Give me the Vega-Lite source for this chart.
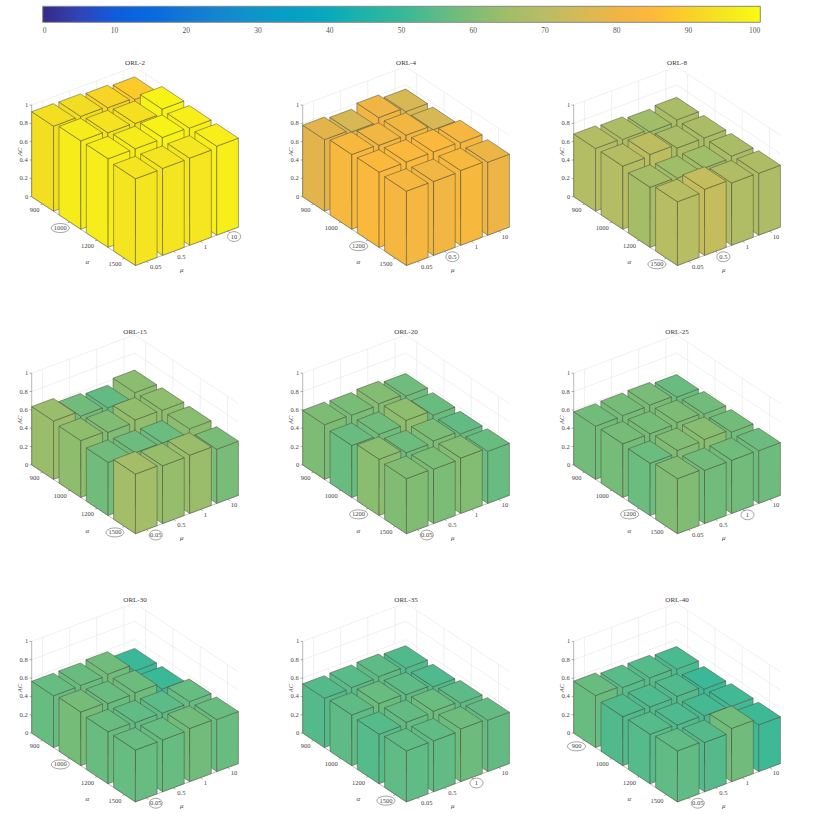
{"$schema":"https://vega.github.io/schema/vega-lite/v6.json","width":822,"height":825,"padding":0,"autosize":{"type":"none"},"background":"white","config":{"view":{"stroke":null}},"projection":{"type":"identity","scale":1,"translate":[0,0]},"datasets":{"panels":[{"panel":"ORL-2","alphaBest":"1000","muBest":"10"},{"panel":"ORL-4","alphaBest":"1200","muBest":"0.5"},{"panel":"ORL-8","alphaBest":"1500","muBest":"0.5"},{"panel":"ORL-15","alphaBest":"1500","muBest":"0.05"},{"panel":"ORL-20","alphaBest":"1200","muBest":"0.05"},{"panel":"ORL-25","alphaBest":"1200","muBest":"1"},{"panel":"ORL-30","alphaBest":"1000","muBest":"0.05"},{"panel":"ORL-35","alphaBest":"1500","muBest":"1"},{"panel":"ORL-40","alphaBest":"900","muBest":"0.05"}],"bars":[
{"panel":"ORL-2","alpha":900,"mu":10,"ac":88.8},{"panel":"ORL-2","alpha":900,"mu":1,"ac":90.7},{"panel":"ORL-2","alpha":900,"mu":0.5,"ac":92.3},{"panel":"ORL-2","alpha":900,"mu":0.05,"ac":92.7},
{"panel":"ORL-2","alpha":1000,"mu":10,"ac":98},{"panel":"ORL-2","alpha":1000,"mu":1,"ac":93.3},{"panel":"ORL-2","alpha":1000,"mu":0.5,"ac":94.2},{"panel":"ORL-2","alpha":1000,"mu":0.05,"ac":96.4},
{"panel":"ORL-2","alpha":1200,"mu":10,"ac":97},{"panel":"ORL-2","alpha":1200,"mu":1,"ac":97.8},{"panel":"ORL-2","alpha":1200,"mu":0.5,"ac":96.5},{"panel":"ORL-2","alpha":1200,"mu":0.05,"ac":96.6},
{"panel":"ORL-2","alpha":1500,"mu":10,"ac":97},{"panel":"ORL-2","alpha":1500,"mu":1,"ac":95},{"panel":"ORL-2","alpha":1500,"mu":0.5,"ac":94.8},{"panel":"ORL-2","alpha":1500,"mu":0.05,"ac":94.5},
{"panel":"ORL-4","alpha":900,"mu":10,"ac":75.5},{"panel":"ORL-4","alpha":900,"mu":1,"ac":80},{"panel":"ORL-4","alpha":900,"mu":0.5,"ac":75.5},{"panel":"ORL-4","alpha":900,"mu":0.05,"ac":78},
{"panel":"ORL-4","alpha":1000,"mu":10,"ac":75.5},{"panel":"ORL-4","alpha":1000,"mu":1,"ac":80.5},{"panel":"ORL-4","alpha":1000,"mu":0.5,"ac":80.5},{"panel":"ORL-4","alpha":1000,"mu":0.05,"ac":81.5},
{"panel":"ORL-4","alpha":1200,"mu":10,"ac":81},{"panel":"ORL-4","alpha":1200,"mu":1,"ac":82},{"panel":"ORL-4","alpha":1200,"mu":0.5,"ac":82},{"panel":"ORL-4","alpha":1200,"mu":0.05,"ac":82},
{"panel":"ORL-4","alpha":1500,"mu":10,"ac":79.5},{"panel":"ORL-4","alpha":1500,"mu":1,"ac":81.5},{"panel":"ORL-4","alpha":1500,"mu":0.5,"ac":80.5},{"panel":"ORL-4","alpha":1500,"mu":0.05,"ac":81},
{"panel":"ORL-8","alpha":900,"mu":10,"ac":66.5},{"panel":"ORL-8","alpha":900,"mu":1,"ac":64.5},{"panel":"ORL-8","alpha":900,"mu":0.5,"ac":67.2},{"panel":"ORL-8","alpha":900,"mu":0.05,"ac":68.4},
{"panel":"ORL-8","alpha":1000,"mu":10,"ac":66.5},{"panel":"ORL-8","alpha":1000,"mu":1,"ac":66.5},{"panel":"ORL-8","alpha":1000,"mu":0.5,"ac":70.5},{"panel":"ORL-8","alpha":1000,"mu":0.05,"ac":68.8},
{"panel":"ORL-8","alpha":1200,"mu":10,"ac":66.5},{"panel":"ORL-8","alpha":1200,"mu":1,"ac":64.5},{"panel":"ORL-8","alpha":1200,"mu":0.5,"ac":64.5},{"panel":"ORL-8","alpha":1200,"mu":0.05,"ac":65.5},
{"panel":"ORL-8","alpha":1500,"mu":10,"ac":67.5},{"panel":"ORL-8","alpha":1500,"mu":1,"ac":68},{"panel":"ORL-8","alpha":1500,"mu":0.5,"ac":72},{"panel":"ORL-8","alpha":1500,"mu":0.05,"ac":69.5},
{"panel":"ORL-15","alpha":900,"mu":10,"ac":61.5},{"panel":"ORL-15","alpha":900,"mu":1,"ac":56},{"panel":"ORL-15","alpha":900,"mu":0.5,"ac":58},{"panel":"ORL-15","alpha":900,"mu":0.05,"ac":63.6},
{"panel":"ORL-15","alpha":1000,"mu":10,"ac":62},{"panel":"ORL-15","alpha":1000,"mu":1,"ac":62.5},{"panel":"ORL-15","alpha":1000,"mu":0.5,"ac":60},{"panel":"ORL-15","alpha":1000,"mu":0.05,"ac":62},
{"panel":"ORL-15","alpha":1200,"mu":10,"ac":61.5},{"panel":"ORL-15","alpha":1200,"mu":1,"ac":57},{"panel":"ORL-15","alpha":1200,"mu":0.5,"ac":57.5},{"panel":"ORL-15","alpha":1200,"mu":0.05,"ac":58},
{"panel":"ORL-15","alpha":1500,"mu":10,"ac":59},{"panel":"ORL-15","alpha":1500,"mu":1,"ac":63.5},{"panel":"ORL-15","alpha":1500,"mu":0.5,"ac":63},{"panel":"ORL-15","alpha":1500,"mu":0.05,"ac":65},
{"panel":"ORL-20","alpha":900,"mu":10,"ac":57.8},{"panel":"ORL-20","alpha":900,"mu":1,"ac":60.4},{"panel":"ORL-20","alpha":900,"mu":0.5,"ac":59},{"panel":"ORL-20","alpha":900,"mu":0.05,"ac":59.6},
{"panel":"ORL-20","alpha":1000,"mu":10,"ac":56.7},{"panel":"ORL-20","alpha":1000,"mu":1,"ac":62},{"panel":"ORL-20","alpha":1000,"mu":0.5,"ac":57.8},{"panel":"ORL-20","alpha":1000,"mu":0.05,"ac":56.7},
{"panel":"ORL-20","alpha":1200,"mu":10,"ac":56},{"panel":"ORL-20","alpha":1200,"mu":1,"ac":59.3},{"panel":"ORL-20","alpha":1200,"mu":0.5,"ac":57.5},{"panel":"ORL-20","alpha":1200,"mu":0.05,"ac":61.4},
{"panel":"ORL-20","alpha":1500,"mu":10,"ac":56.7},{"panel":"ORL-20","alpha":1500,"mu":1,"ac":60.4},{"panel":"ORL-20","alpha":1500,"mu":0.5,"ac":59.3},{"panel":"ORL-20","alpha":1500,"mu":0.05,"ac":60},
{"panel":"ORL-25","alpha":900,"mu":10,"ac":56.7},{"panel":"ORL-25","alpha":900,"mu":1,"ac":59},{"panel":"ORL-25","alpha":900,"mu":0.5,"ac":58.5},{"panel":"ORL-25","alpha":900,"mu":0.05,"ac":58},
{"panel":"ORL-25","alpha":1000,"mu":10,"ac":58},{"panel":"ORL-25","alpha":1000,"mu":1,"ac":59.6},{"panel":"ORL-25","alpha":1000,"mu":0.5,"ac":58.5},{"panel":"ORL-25","alpha":1000,"mu":0.05,"ac":58.5},
{"panel":"ORL-25","alpha":1200,"mu":10,"ac":58},{"panel":"ORL-25","alpha":1200,"mu":1,"ac":61},{"panel":"ORL-25","alpha":1200,"mu":0.5,"ac":60},{"panel":"ORL-25","alpha":1200,"mu":0.05,"ac":57},
{"panel":"ORL-25","alpha":1500,"mu":10,"ac":57.5},{"panel":"ORL-25","alpha":1500,"mu":1,"ac":58},{"panel":"ORL-25","alpha":1500,"mu":0.5,"ac":58},{"panel":"ORL-25","alpha":1500,"mu":0.05,"ac":60},
{"panel":"ORL-30","alpha":900,"mu":10,"ac":50.5},{"panel":"ORL-30","alpha":900,"mu":1,"ac":58},{"panel":"ORL-30","alpha":900,"mu":0.5,"ac":56.7},{"panel":"ORL-30","alpha":900,"mu":0.05,"ac":56.5},
{"panel":"ORL-30","alpha":1000,"mu":10,"ac":50.5},{"panel":"ORL-30","alpha":1000,"mu":1,"ac":57.5},{"panel":"ORL-30","alpha":1000,"mu":0.5,"ac":56.7},{"panel":"ORL-30","alpha":1000,"mu":0.05,"ac":58.5},
{"panel":"ORL-30","alpha":1200,"mu":10,"ac":56.5},{"panel":"ORL-30","alpha":1200,"mu":1,"ac":55},{"panel":"ORL-30","alpha":1200,"mu":0.5,"ac":55.6},{"panel":"ORL-30","alpha":1200,"mu":0.05,"ac":56.7},
{"panel":"ORL-30","alpha":1500,"mu":10,"ac":56.7},{"panel":"ORL-30","alpha":1500,"mu":1,"ac":58},{"panel":"ORL-30","alpha":1500,"mu":0.5,"ac":56.5},{"panel":"ORL-30","alpha":1500,"mu":0.05,"ac":56.5},
{"panel":"ORL-35","alpha":900,"mu":10,"ac":53.5},{"panel":"ORL-35","alpha":900,"mu":1,"ac":55.3},{"panel":"ORL-35","alpha":900,"mu":0.5,"ac":54.5},{"panel":"ORL-35","alpha":900,"mu":0.05,"ac":53.8},
{"panel":"ORL-35","alpha":1000,"mu":10,"ac":53},{"panel":"ORL-35","alpha":1000,"mu":1,"ac":55.3},{"panel":"ORL-35","alpha":1000,"mu":0.5,"ac":56.7},{"panel":"ORL-35","alpha":1000,"mu":0.05,"ac":55.3},
{"panel":"ORL-35","alpha":1200,"mu":10,"ac":55},{"panel":"ORL-35","alpha":1200,"mu":1,"ac":57},{"panel":"ORL-35","alpha":1200,"mu":0.5,"ac":56},{"panel":"ORL-35","alpha":1200,"mu":0.05,"ac":54},
{"panel":"ORL-35","alpha":1500,"mu":10,"ac":56},{"panel":"ORL-35","alpha":1500,"mu":1,"ac":57.5},{"panel":"ORL-35","alpha":1500,"mu":0.5,"ac":55.5},{"panel":"ORL-35","alpha":1500,"mu":0.05,"ac":55.6},
{"panel":"ORL-40","alpha":900,"mu":10,"ac":52.5},{"panel":"ORL-40","alpha":900,"mu":1,"ac":54},{"panel":"ORL-40","alpha":900,"mu":0.5,"ac":54.5},{"panel":"ORL-40","alpha":900,"mu":0.05,"ac":56.7},
{"panel":"ORL-40","alpha":1000,"mu":10,"ac":50.5},{"panel":"ORL-40","alpha":1000,"mu":1,"ac":53.5},{"panel":"ORL-40","alpha":1000,"mu":0.5,"ac":53},{"panel":"ORL-40","alpha":1000,"mu":0.05,"ac":53.5},
{"panel":"ORL-40","alpha":1200,"mu":10,"ac":51.5},{"panel":"ORL-40","alpha":1200,"mu":1,"ac":52},{"panel":"ORL-40","alpha":1200,"mu":0.5,"ac":53},{"panel":"ORL-40","alpha":1200,"mu":0.05,"ac":54},
{"panel":"ORL-40","alpha":1500,"mu":10,"ac":51},{"panel":"ORL-40","alpha":1500,"mu":1,"ac":58},{"panel":"ORL-40","alpha":1500,"mu":0.5,"ac":53.8},{"panel":"ORL-40","alpha":1500,"mu":0.05,"ac":55.6}
],"cbticks":[{"pct":10},{"pct":20},{"pct":30},{"pct":40},{"pct":50},{"pct":60},{"pct":70},{"pct":80},{"pct":90}]},
"layer":[
{"data":{"name":"panels"},"transform":[
{"calculate":"indexof(['ORL-2','ORL-4','ORL-8','ORL-15','ORL-20','ORL-25','ORL-30','ORL-35','ORL-40'],datum.panel)","as":"n"},
{"calculate":"[31.7,302.7,573.7][datum.n%3]","as":"ox"},
{"calculate":"196.7+268.2*floor(datum.n/3)","as":"oy"},
{"calculate":"[{axis:'z',i:0,v:0,label:'0'},{axis:'z',i:1,v:0.2,label:'0.2'},{axis:'z',i:2,v:0.4,label:'0.4'},{axis:'z',i:3,v:0.6,label:'0.6'},{axis:'z',i:4,v:0.8,label:'0.8'},{axis:'z',i:5,v:1,label:'1'},{axis:'alpha',i:0,v:0,label:'900'},{axis:'alpha',i:1,v:0,label:'1000'},{axis:'alpha',i:2,v:0,label:'1200'},{axis:'alpha',i:3,v:0,label:'1500'},{axis:'mu',i:0,v:0,label:'0.05'},{axis:'mu',i:1,v:0,label:'0.5'},{axis:'mu',i:2,v:0,label:'1'},{axis:'mu',i:3,v:0,label:'10'}]","as":"t"},
{"flatten":["t"]},
{"calculate":"datum.t.axis","as":"axis"},{"calculate":"datum.t.label","as":"label"},
{"calculate":"datum.axis=='alpha'?datum.t.i+0.4:datum.axis=='mu'?3.8:0","as":"a"},
{"calculate":"datum.axis=='mu'?datum.t.i+0.4:0","as":"b"},
{"calculate":"datum.ox+datum.a*27.3+datum.b*27.1","as":"px"},
{"calculate":"datum.oy+datum.a*18.1-datum.b*10.1-datum.t.v*91.7","as":"py"},
{"calculate":"{type:'LineString',coordinates:datum.axis=='z'?[[datum.px,datum.py],[datum.px+103,datum.py-38.4],[datum.px+206.7,datum.py+30.4]]:datum.axis=='alpha'?[[datum.px,datum.py],[datum.px+103,datum.py-38.4],[datum.px+103,datum.py-130.1]]:[[datum.px,datum.py],[datum.px-103.7,datum.py-68.8],[datum.px-103.7,datum.py-160.5]]}","as":"grid"},
{"calculate":"{type:'LineString',coordinates:datum.axis=='z'?[[datum.px,datum.py],[datum.px-2,datum.py]]:datum.axis=='alpha'?[[datum.px,datum.py],[datum.px-2.2,datum.py+0.8]]:[[datum.px,datum.py],[datum.px+2.2,datum.py+1.45]]}","as":"tick"},
{"calculate":"{type:'MultiLineString',coordinates:[[[datum.ox,datum.oy],[datum.ox,datum.oy-91.7]],[[datum.ox,datum.oy],[datum.ox+103.7,datum.oy+68.8],[datum.ox+206.7,datum.oy+30.4]]]}","as":"axes"},
{"calculate":"length(datum.label)*1.5","as":"hw"},
{"calculate":"datum.axis=='mu'?datum.px+3.5+datum.hw:datum.px-3.6-datum.hw","as":"lx"},
{"calculate":"datum.axis=='z'?datum.py:datum.axis=='alpha'?datum.py+6:datum.py+5.4","as":"ly"}
],"layer":[
{"mark":{"type":"geoshape","filled":false,"stroke":"#e6e6e6","strokeWidth":0.6,"fill":null},"encoding":{"shape":{"field":"grid","type":"geojson"}}},
{"transform":[{"filter":"datum.axis=='z'&&datum.t.v==0"}],"mark":{"type":"geoshape","filled":false,"stroke":"#8a8a8a","strokeWidth":0.6,"fill":null},"encoding":{"shape":{"field":"axes","type":"geojson"}}},
{"mark":{"type":"geoshape","filled":false,"stroke":"#555555","strokeWidth":0.5,"fill":null},"encoding":{"shape":{"field":"tick","type":"geojson"}}},
{"mark":{"type":"text","font":"Liberation Serif","fontSize":6.5,"color":"#444444","opacity":0.99,"align":"center","baseline":"middle"},"encoding":{"longitude":{"field":"lx","type":"quantitative"},"latitude":{"field":"ly","type":"quantitative"},"text":{"field":"label","type":"nominal"}}},
{"transform":[{"filter":"datum.axis=='alpha'&&datum.label==datum.alphaBest"}],"mark":{"type":"point","shape":"M-1,0A1,0.5,0,1,1,1,0A1,0.5,0,1,1,-1,0Z","size":324,"stroke":"#444444","strokeWidth":0.5,"fill":"transparent","opacity":1},"encoding":{"longitude":{"field":"lx","type":"quantitative"},"latitude":{"field":"ly","type":"quantitative"}}},
{"transform":[{"filter":"datum.axis=='mu'&&datum.label==datum.muBest"}],"mark":{"type":"point","shape":"M-1,0A1,0.75,0,1,1,1,0A1,0.75,0,1,1,-1,0Z","size":169,"stroke":"#444444","strokeWidth":0.5,"fill":"transparent","opacity":1},"encoding":{"longitude":{"field":"lx","type":"quantitative"},"latitude":{"field":"ly","type":"quantitative"}}},
{"transform":[{"filter":"datum.axis=='z'&&datum.t.v==0"},{"calculate":"datum.ox+103.3","as":"tx"},{"calculate":"datum.oy-133.4","as":"ty"}],"mark":{"type":"text","font":"Liberation Serif","fontSize":7,"color":"#333333","opacity":0.99,"align":"center","baseline":"middle"},"encoding":{"longitude":{"field":"tx","type":"quantitative"},"latitude":{"field":"ty","type":"quantitative"},"text":{"field":"panel","type":"nominal"}}},
{"transform":[{"filter":"datum.axis=='z'&&datum.t.v==0"},{"calculate":"datum.ox+55.7","as":"tx"},{"calculate":"datum.oy+65.7","as":"ty"}],"mark":{"type":"text","font":"Liberation Serif","fontSize":7,"fontStyle":"italic","color":"#444444","opacity":0.99,"align":"center","baseline":"middle"},"encoding":{"longitude":{"field":"tx","type":"quantitative"},"latitude":{"field":"ty","type":"quantitative"},"text":{"value":"α"}}},
{"transform":[{"filter":"datum.axis=='z'&&datum.t.v==0"},{"calculate":"datum.ox+150","as":"tx"},{"calculate":"datum.oy+73.3","as":"ty"}],"mark":{"type":"text","font":"Liberation Serif","fontSize":7,"fontStyle":"italic","color":"#444444","opacity":0.99,"align":"center","baseline":"middle"},"encoding":{"longitude":{"field":"tx","type":"quantitative"},"latitude":{"field":"ty","type":"quantitative"},"text":{"value":"μ"}}},
{"transform":[{"filter":"datum.axis=='z'&&datum.t.v==0"},{"calculate":"datum.ox-11.7","as":"tx"},{"calculate":"datum.oy-45","as":"ty"}],"mark":{"type":"text","font":"Liberation Serif","fontSize":6.5,"fontStyle":"italic","color":"#444444","opacity":0.99,"align":"center","baseline":"middle","angle":270},"encoding":{"longitude":{"field":"tx","type":"quantitative"},"latitude":{"field":"ty","type":"quantitative"},"text":{"value":"AC"}}}
]},
{"data":{"name":"bars"},"transform":[
{"calculate":"indexof(['ORL-2','ORL-4','ORL-8','ORL-15','ORL-20','ORL-25','ORL-30','ORL-35','ORL-40'],datum.panel)","as":"n"},
{"calculate":"indexof([900,1000,1200,1500],datum.alpha)","as":"i"},
{"calculate":"indexof([0.05,0.5,1,10],datum.mu)","as":"j"},
{"calculate":"[31.7,302.7,573.7][datum.n%3]+datum.i*27.3+datum.j*27.1","as":"lx"},
{"calculate":"196.7+268.2*floor(datum.n/3)+datum.i*18.1-datum.j*10.1","as":"ly"},
{"calculate":"datum.lx+21.84","as":"fx"},{"calculate":"datum.ly+14.48","as":"fy"},
{"calculate":"datum.fx+21.68","as":"rx"},{"calculate":"datum.fy-8.08","as":"ry"},
{"calculate":"datum.lx+21.68","as":"bx"},{"calculate":"datum.ly-8.08","as":"by"},
{"calculate":"datum.ac*0.917","as":"h"},
{"calculate":"[{type:'Polygon',coordinates:[[[datum.lx,datum.ly],[datum.fx,datum.fy],[datum.fx,datum.fy-datum.h],[datum.lx,datum.ly-datum.h],[datum.lx,datum.ly]]]},{type:'Polygon',coordinates:[[[datum.fx,datum.fy],[datum.rx,datum.ry],[datum.rx,datum.ry-datum.h],[datum.fx,datum.fy-datum.h],[datum.fx,datum.fy]]]},{type:'Polygon',coordinates:[[[datum.lx,datum.ly-datum.h],[datum.fx,datum.fy-datum.h],[datum.rx,datum.ry-datum.h],[datum.bx,datum.by-datum.h],[datum.lx,datum.ly-datum.h]]]}]","as":"faces"},
{"flatten":["faces"]}
],"mark":{"type":"geoshape","stroke":"#4a4a38","strokeWidth":0.5,"fillOpacity":1},"encoding":{"shape":{"field":"faces","type":"geojson"},"fill":{"field":"ac","type":"quantitative","scale":{"domain":[0,5,10,15,20,25,30,35,40,45,50,55,60,65,70,75,78,80,82,85,88,90,92,95,100],"range":["#352a87","#3243b8","#0f5cdd","#0969e0","#1278d4","#1487d0","#0c97c8","#06a0c5","#09a9bd","#20b3a8","#36b89a","#5cbb87","#80bc74","#a3bd68","#b9bd63","#d6b956","#e4b44c","#f0b544","#fab93c","#fdb93a","#fdc82c","#fbd028","#f3dc22","#f5e620","#f9fb0e"]},"legend":{"orient":"none","legendX":42.7,"legendY":6.3,"direction":"horizontal","gradientLength":717.6,"gradientThickness":16,"title":null,"values":[0,10,20,30,40,50,60,70,80,90,100],"labelFont":"Liberation Serif","labelFontSize":7.5,"labelColor":"#444444","labelOpacity":0.99,"labelOffset":5,"gradientStrokeColor":"#888888","gradientStrokeWidth":1}}}},
{"data":{"name":"cbticks"},"transform":[{"calculate":"42.7+datum.pct*7.176","as":"x"},{"calculate":"{type:'LineString',coordinates:[[datum.x,22.3],[datum.x,16.3]]}","as":"g"}],"mark":{"type":"geoshape","filled":false,"stroke":"#333333","strokeOpacity":0.7,"strokeWidth":0.6,"fill":null},"encoding":{"shape":{"field":"g","type":"geojson"}}}
]}
